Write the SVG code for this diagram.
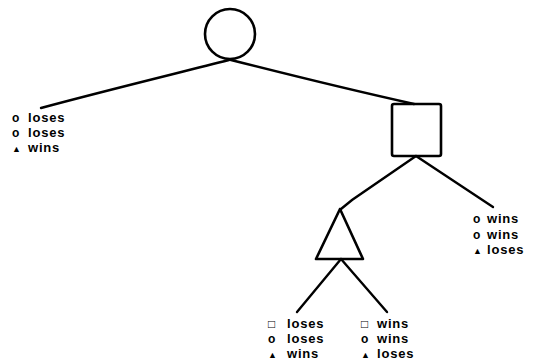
<svg xmlns="http://www.w3.org/2000/svg" width="555" height="362" viewBox="0 0 555 362">
<style>
.shape{fill:none;stroke:#000;stroke-width:2.6;stroke-linejoin:round}
.edge{fill:none;stroke:#000;stroke-width:2.4;stroke-linecap:round}
.lbl{font-family:"Liberation Sans",Arial,sans-serif;font-weight:bold;font-size:13px;letter-spacing:0.8px;fill:#000}
.sym{font-size:12px;letter-spacing:0}
.tri{font-size:9px;letter-spacing:0}
</style>
<rect width="555" height="362" fill="#fff"/>
<g id="connectors">
<path class="edge" d="M229,60 C170,75 100,92 41,108"/>
<path class="edge" d="M231,60 C290,75 360,92 414,104"/>
<path class="edge" d="M416,156 L352,200 L341,209"/>
<path class="edge" d="M416,156 L493,207"/>
<path class="edge" d="M341,259 L297,312"/>
<path class="edge" d="M341,259 L387,312"/>
</g>
<g id="node-circle"><circle class="shape" cx="230" cy="34" r="25"/></g>
<g id="node-square"><rect class="shape" x="392" y="104" width="49" height="52" rx="2"/></g>
<g id="node-triangle"><path class="shape" d="M340,209 L316,259 L363,259 Z"/></g>
<g id="leaf-left" class="lbl">
<text x="12" y="122"><tspan class="sym">o</tspan><tspan x="28">loses</tspan></text>
<text x="12" y="137"><tspan class="sym">o</tspan><tspan x="28">loses</tspan></text>
<text x="12" y="152"><tspan class="tri">▲</tspan><tspan x="28">wins</tspan></text>
</g>
<g id="leaf-right" class="lbl">
<text x="473" y="223"><tspan class="sym">o</tspan><tspan x="487">wins</tspan></text>
<text x="473" y="239"><tspan class="sym">o</tspan><tspan x="487">wins</tspan></text>
<text x="473" y="254"><tspan class="tri">▲</tspan><tspan x="487">loses</tspan></text>
</g>
<g id="leaf-bottom-left" class="lbl">
<text x="268" y="328"><tspan class="sym">□</tspan><tspan x="287">loses</tspan></text>
<text x="268" y="343"><tspan class="sym">o</tspan><tspan x="287">loses</tspan></text>
<text x="268" y="358"><tspan class="tri">▲</tspan><tspan x="287">wins</tspan></text>
</g>
<g id="leaf-bottom-right" class="lbl">
<text x="361" y="328"><tspan class="sym">□</tspan><tspan x="377">wins</tspan></text>
<text x="361" y="343"><tspan class="sym">o</tspan><tspan x="377">wins</tspan></text>
<text x="361" y="358"><tspan class="tri">▲</tspan><tspan x="377">loses</tspan></text>
</g>
</svg>
